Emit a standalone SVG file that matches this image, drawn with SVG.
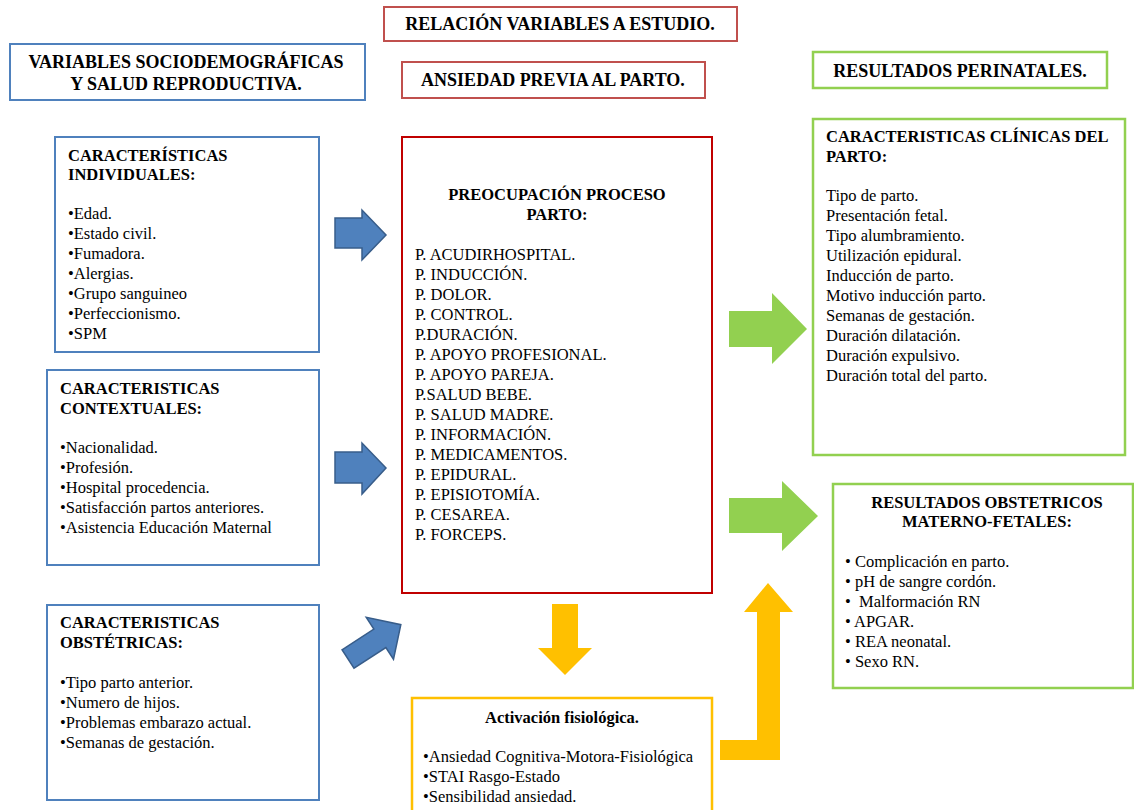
<svg xmlns="http://www.w3.org/2000/svg" width="1134" height="810" viewBox="0 0 1134 810">
<style>
text{font-family:"Liberation Serif","Times New Roman",serif;fill:#000}
.t{font-size:18px;font-weight:bold}
.h{font-size:16.5px;font-weight:bold}
.i{font-size:16.5px}
.c{text-anchor:middle}
.bb{fill:#fff;stroke:#4f81bd;stroke-width:2}
.rb{fill:#fff;stroke:#c0504d;stroke-width:2}
.db{fill:#fff;stroke:#c00000;stroke-width:2}
.gb{fill:#fff;stroke:#92d050;stroke-width:2.5}
.yb{fill:#fff;stroke:#ffc000;stroke-width:2.5}
.ba{fill:#4f81bd;stroke:#385d8a;stroke-width:1.5}
.ga{fill:#92d050}
.ya{fill:#ffc000}
</style>
<rect width="1134" height="810" fill="#fff"/>
<g id="title">
<rect class="rb" x="384" y="7" width="353" height="34"/>
<text class="t c" x="560" y="30">RELACIÓN VARIABLES A ESTUDIO.</text>
</g>
<g id="sociodemo">
<rect class="bb" x="10" y="44" width="355" height="56"/>
<text class="t c" x="186" y="68">VARIABLES SOCIODEMOGRÁFICAS</text>
<text class="t c" x="186" y="90">Y SALUD REPRODUCTIVA.</text>
</g>
<g id="ansiedad">
<rect class="rb" x="402" y="62" width="303" height="36"/>
<text class="t c" x="553" y="86">ANSIEDAD PREVIA AL PARTO.</text>
</g>
<g id="perinatales">
<rect class="gb" x="813" y="52" width="294" height="36"/>
<text class="t c" x="960" y="77">RESULTADOS PERINATALES.</text>
</g>
<g id="individuales">
<rect class="bb" x="55" y="137" width="264" height="215"/>
<text class="h" x="68" y="161">CARACTERÍSTICAS</text>
<text class="h" x="68" y="180">INDIVIDUALES:</text>
<text class="i" x="68" y="219">•Edad.</text>
<text class="i" x="68" y="239">•Estado civil.</text>
<text class="i" x="68" y="259">•Fumadora.</text>
<text class="i" x="68" y="279">•Alergias.</text>
<text class="i" x="68" y="299">•Grupo sanguineo</text>
<text class="i" x="68" y="319">•Perfeccionismo.</text>
<text class="i" x="68" y="339">•SPM</text>
</g>
<g id="contextuales">
<rect class="bb" x="47" y="370" width="272" height="195"/>
<text class="h" x="60" y="394">CARACTERISTICAS</text>
<text class="h" x="60" y="414">CONTEXTUALES:</text>
<text class="i" x="60" y="453">•Nacionalidad.</text>
<text class="i" x="60" y="473">•Profesión.</text>
<text class="i" x="60" y="493">•Hospital procedencia.</text>
<text class="i" x="60" y="513">•Satisfacción partos anteriores.</text>
<text class="i" x="60" y="533">•Asistencia Educación Maternal</text>
</g>
<g id="obstetricas">
<rect class="bb" x="47" y="605" width="272" height="195"/>
<text class="h" x="60" y="628">CARACTERISTICAS</text>
<text class="h" x="60" y="648">OBSTÉTRICAS:</text>
<text class="i" x="60" y="688">•Tipo parto anterior.</text>
<text class="i" x="60" y="708">•Numero de hijos.</text>
<text class="i" x="60" y="728">•Problemas embarazo actual.</text>
<text class="i" x="60" y="748">•Semanas de gestación.</text>
</g>
<g id="preocupacion">
<rect class="db" x="402" y="137" width="310" height="456"/>
<text class="h c" x="557" y="200">PREOCUPACIÓN PROCESO</text>
<text class="h c" x="557" y="220">PARTO:</text>
<text class="i" x="415" y="260">P. ACUDIRHOSPITAL.</text>
<text class="i" x="415" y="280">P. INDUCCIÓN.</text>
<text class="i" x="415" y="300">P. DOLOR.</text>
<text class="i" x="415" y="320">P. CONTROL.</text>
<text class="i" x="415" y="340">P.DURACIÓN.</text>
<text class="i" x="415" y="360">P. APOYO PROFESIONAL.</text>
<text class="i" x="415" y="380">P. APOYO PAREJA.</text>
<text class="i" x="415" y="400">P.SALUD BEBE.</text>
<text class="i" x="415" y="420">P. SALUD MADRE.</text>
<text class="i" x="415" y="440">P. INFORMACIÓN.</text>
<text class="i" x="415" y="460">P. MEDICAMENTOS.</text>
<text class="i" x="415" y="480">P. EPIDURAL.</text>
<text class="i" x="415" y="500">P. EPISIOTOMÍA.</text>
<text class="i" x="415" y="520">P. CESAREA.</text>
<text class="i" x="415" y="540">P. FORCEPS.</text>
</g>
<g id="clinicas">
<rect class="gb" x="813" y="119" width="312" height="336"/>
<text class="h" x="826" y="142">CARACTERISTICAS CLÍNICAS DEL</text>
<text class="h" x="826" y="162">PARTO:</text>
<text class="i" x="826" y="201">Tipo de parto.</text>
<text class="i" x="826" y="221">Presentación fetal.</text>
<text class="i" x="826" y="241">Tipo alumbramiento.</text>
<text class="i" x="826" y="261">Utilización epidural.</text>
<text class="i" x="826" y="281">Inducción de parto.</text>
<text class="i" x="826" y="301">Motivo inducción parto.</text>
<text class="i" x="826" y="321">Semanas de gestación.</text>
<text class="i" x="826" y="341">Duración dilatación.</text>
<text class="i" x="826" y="361">Duración expulsivo.</text>
<text class="i" x="826" y="381">Duración total del parto.</text>
</g>
<g id="obstetricos">
<rect class="gb" x="833" y="484" width="300" height="204"/>
<text class="h c" x="987" y="508">RESULTADOS OBSTETRICOS</text>
<text class="h c" x="987" y="527">MATERNO-FETALES:</text>
<text class="i" x="845" y="567">• Complicación en parto.</text>
<text class="i" x="845" y="587">• pH de sangre cordón.</text>
<text class="i" x="845" y="607" xml:space="preserve">•  Malformación RN</text>
<text class="i" x="845" y="627">• APGAR.</text>
<text class="i" x="845" y="647">• REA neonatal.</text>
<text class="i" x="845" y="667">• Sexo RN.</text>
</g>
<g id="activacion">
<rect class="yb" x="412" y="698" width="300" height="120"/>
<text class="h c" x="562" y="723">Activación fisiológica.</text>
<text class="i" x="423" y="762">•Ansiedad Cognitiva-Motora-Fisiológica</text>
<text class="i" x="423" y="782">•STAI Rasgo-Estado</text>
<text class="i" x="423" y="802">•Sensibilidad ansiedad.</text>
</g>
<g id="connectors">
<polygon class="ba" points="335,218 362,218 362,210 386,235 362,260 362,248 335,248"/>
<polygon class="ba" points="335,452 362,452 362,443 386,468 362,494 362,483 335,483"/>
<polygon class="ba" transform="translate(348,659) rotate(-33)" points="0,-11 38,-11 38,-25 63,0 38,25 38,11 0,11"/>
<polygon class="ga" points="729,311 772,311 772,293 807,329 772,364 772,347 729,347"/>
<polygon class="ga" points="729,498 782,498 782,481 818,516 782,551 782,533 729,533"/>
<polygon class="ya" points="552,604 578,604 578,648 592,648 565,675 538,648 552,648"/>
<polygon class="ya" points="720,740 757,740 757,612 744,612 768,583 793,612 780,612 780,760 720,760"/>
</g>
</svg>
